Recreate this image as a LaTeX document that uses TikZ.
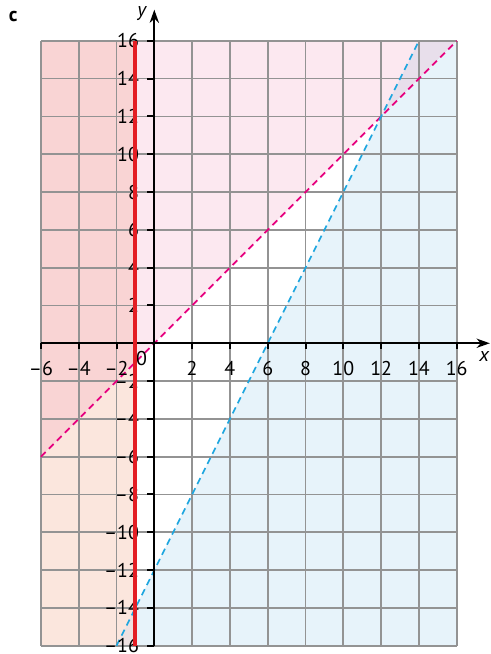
\documentclass[tikz,border=0pt]{standalone}
\usepackage{fontspec}
\setmainfont{PT Sans}
\usetikzlibrary{arrows.meta}
\definecolor{regA}{HTML}{F9D4D4}
\definecolor{regB}{HTML}{FBE6DD}
\definecolor{regC}{HTML}{EEE1E1}
\definecolor{regD}{HTML}{FCE8F0}
\definecolor{regE}{HTML}{E8DFEB}
\definecolor{regF}{HTML}{E7F3FA}
\definecolor{gridgray}{HTML}{939393}
\definecolor{magline}{HTML}{E6007E}
\definecolor{cyanline}{HTML}{1EA6DF}
\definecolor{redline}{HTML}{E31E24}
\tikzset{
  gridline/.style={gridgray, line width=1.3pt},
  axisline/.style={black, line width=1.5pt, -{Stealth[length=10pt,width=7pt]}},
  tickline/.style={black, line width=1.5pt},
  dashline/.style={line width=1.3pt, dash pattern=on 5pt off 3.5pt},
  lbl/.style={font=\fontsize{15}{16}\selectfont, inner sep=0pt},
  ilbl/.style={font=\fontsize{15}{16}\selectfont\itshape, inner sep=0pt},
}
\begin{document}
\begin{tikzpicture}[x=0.5cm,y=0.5cm]
\useasboundingbox (-8.164,-16.44) rectangle (17.76,18.16);
% regions
\fill[regA] (-6,16) -- (-1,16) -- (-1,-1) -- (-6,-6) -- cycle;
\fill[regB] (-6,-6) -- (-1,-1) -- (-1,-14) -- (-2,-16) -- (-6,-16) -- cycle;
\fill[regC] (-2,-16) -- (-1,-14) -- (-1,-16) -- cycle;
\fill[regD] (-1,16) -- (14,16) -- (12,12) -- (-1,-1) -- cycle;
\fill[regE] (12,12) -- (14,16) -- (16,16) -- cycle;
\fill[regF] (12,12) -- (16,16) -- (16,-16) -- (-1,-16) -- (-1,-14) -- cycle;
% grid
\draw[gridline] (-6,-16) grid[step=2] (16,16);
% dashed boundary lines
\draw[dashline, magline] (-6,-6) -- (16,16);
\draw[dashline, cyanline] (-2,-16) -- (14,16);
% axes
\draw[axisline] (-6,0) -- (17.75,0);
\draw[axisline] (0,-16) -- (0,17.65);
\foreach \t in {-6,-4,...,16} \draw[tickline] (\t,0) -- (\t,-0.3);
\foreach \t in {-16,-14,...,16} \draw[tickline] (0,\t) -- (-0.4,\t);
% x labels
\foreach \t in {2,4,...,16} \node[lbl, anchor=north] at (\t,-0.95) {\t};
\foreach \t in {6,4,2} \node[lbl, anchor=north] at (-\t,-0.95) {–\t};
\node[lbl] at (-0.67,-0.8) {0};
% y labels
\foreach \t in {2,4,...,16} \node[lbl, anchor=east] at (-0.8,\t) {\t};
\foreach \t in {2,4,...,16} \node[lbl, anchor=east] at (-0.8,-\t) {–\t};
\node[ilbl] at (17.45,-0.72) {x};
\node[ilbl] at (-0.67,17.45) {y};
\node[lbl, font=\fontsize{15}{16}\selectfont\bfseries] at (-7.47,17.3) {c};
% red line
\draw[redline, line width=3pt] (-1,-16) -- (-1,16);
\end{tikzpicture}
\end{document}
